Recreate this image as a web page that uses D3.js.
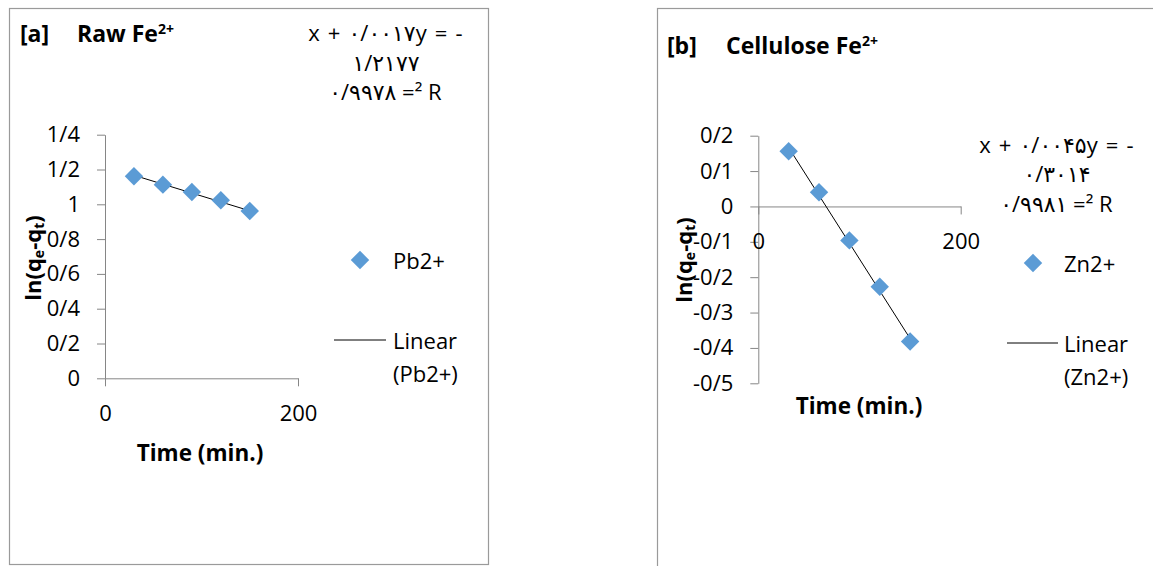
<!DOCTYPE html>
<html>
<head>
<meta charset="utf-8">
<script src="https://cdn.jsdelivr.net/npm/d3@7/dist/d3.min.js"></script>
<style>
  html, body { margin: 0; padding: 0; background: #fff; }
  svg { display: block; }
  text { font-family: "Open Sans", "DejaVu Sans", sans-serif; }
</style>
</head>
<body>
<svg id="chart" width="1153" height="566"></svg>
<script>
// Sampling times (min.)
const times = [30, 60, 90, 120, 150];

// Panel [a]: Raw Fe2+ (Pb2+ series)
const pbValues = [1.161, 1.113, 1.071, 1.023, 0.962];
const pbSlope = -0.0017;
const pbIntercept = 1.2177;
const pbYTicks = [0, 0.2, 0.4, 0.6, 0.8, 1, 1.2, 1.4];
const pbYTickLabels = ["0", "0/2", "0/4", "0/6", "0/8", "1", "1/2", "1/4"];
const pbEquation = ["x + ۰/۰۰۱۷y = -", "۱/۲۱۷۷", "۰/۹۹۷۸ =² R"];

// Panel [b]: Cellulose Fe2+ (Zn2+ series)
const znValues = [0.156, 0.040, -0.096, -0.227, -0.382];
const znSlope = -0.0045;
const znIntercept = 0.3014;
const znYTicks = [-0.5, -0.4, -0.3, -0.2, -0.1, 0, 0.1, 0.2];
const znYTickLabels = ["-0/5", "-0/4", "-0/3", "-0/2", "-0/1", "0", "0/1", "0/2"];
const znEquation = ["x + ۰/۰۰۴۵y = -", "۰/۳۰۱۴", "۰/۹۹۸۱ =² R"];

const xTicks = [0, 200];
const xTickLabels = ["0", "200"];

const svg = d3.select("#chart");
const AXIS = "#868686";
const MARK = "#5B9BD5";

function panel(cfg) {
  const g = svg.append("g");

  // chart frame
  g.append("rect")
    .attr("x", cfg.frame[0]).attr("y", cfg.frame[1])
    .attr("width", cfg.frame[2]).attr("height", cfg.frame[3])
    .attr("fill", "none").attr("stroke", "#9a9a9a").attr("stroke-width", 1.2);

  const x = d3.scaleLinear().domain([0, 200]).range(cfg.xRange);
  const y = d3.scaleLinear().domain(cfg.yDomain).range(cfg.yRange);

  // y axis
  const yAxis = d3.axisLeft(y)
    .tickValues(cfg.yTicks)
    .tickFormat((d, i) => cfg.yTickLabels[i])
    .tickSize(8).tickSizeOuter(0).tickPadding(17);
  const gy = g.append("g").attr("transform", `translate(${x(0)},0)`).call(yAxis);

  // x axis, crossing at y = 0
  const xAxis = d3.axisBottom(x)
    .tickValues(xTicks)
    .tickFormat((d, i) => xTickLabels[i])
    .tickSize(8).tickSizeOuter(0).tickPadding(19);
  const gx = g.append("g").attr("transform", `translate(0,${y(0)})`).call(xAxis);

  [gx, gy].forEach(a => {
    a.select(".domain").attr("stroke", AXIS);
    a.selectAll(".tick line").attr("stroke", AXIS);
    a.selectAll(".tick text")
      .attr("fill", "#000")
      .style("font-family", '"Open Sans", sans-serif')
      .style("font-size", "22px");
  });

  // axis titles
  g.append("text")
    .attr("x", cfg.xTitle[0]).attr("y", cfg.xTitle[1])
    .attr("text-anchor", "middle").attr("dominant-baseline", "central")
    .style("font-weight", "bold").style("font-size", "22.5px")
    .text("Time (min.)");

  const yt = g.append("text")
    .attr("transform", `translate(${cfg.yTitle[0]},${cfg.yTitle[1]}) rotate(-90)`)
    .attr("text-anchor", "middle").attr("dominant-baseline", "central")
    .style("font-weight", "bold").style("font-size", "22px");
  yt.append("tspan").text("ln(q");
  yt.append("tspan").attr("dy", 6).style("font-size", "14px").text("e");
  yt.append("tspan").attr("dy", -6).text("-q");
  yt.append("tspan").attr("dy", 6).style("font-size", "14px").text("t");
  yt.append("tspan").attr("dy", -6).text(")");

  // panel title
  const tt = g.append("text")
    .attr("x", cfg.title[0]).attr("y", cfg.title[1])
    .style("font-weight", "bold").style("font-size", "23px");
  tt.append("tspan").text(cfg.tag);
  tt.append("tspan").attr("x", cfg.title[2]).text(cfg.name + " Fe");
  tt.append("tspan").attr("dy", -8).style("font-size", "14px").text("2+");

  // linear trend line
  const x0 = d3.min(times), x1 = d3.max(times);
  g.append("line")
    .attr("x1", x(x0)).attr("y1", y(cfg.intercept + cfg.slope * x0))
    .attr("x2", x(x1)).attr("y2", y(cfg.intercept + cfg.slope * x1))
    .attr("stroke", "#000").attr("stroke-width", 1);

  // data markers (diamonds)
  const diamond = d3.symbol().type(d3.symbolSquare).size(170);
  g.selectAll("path.pt")
    .data(times.map((t, i) => [t, cfg.values[i]]))
    .join("path")
    .attr("class", "pt")
    .attr("d", diamond)
    .attr("transform", d => `translate(${x(d[0])},${y(d[1])}) rotate(45)`)
    .attr("fill", MARK);

  // regression equation
  const eq = g.append("text")
    .attr("text-anchor", "middle")
    .attr("direction", "ltr")
    .style("unicode-bidi", "bidi-override")
    .style("font-size", "22px")
    .style("letter-spacing", "1.2px");
  cfg.equation.forEach((line, i) => {
    eq.append("tspan")
      .attr("x", cfg.eq[0])
      .attr("y", cfg.eq[1] + i * 29.5)
      .attr("dominant-baseline", "central")
      .text(line);
  });

  // legend
  const lg = g.append("g");
  lg.append("path")
    .attr("d", diamond)
    .attr("transform", `translate(${cfg.legend[0]},${cfg.legend[1]}) rotate(45)`)
    .attr("fill", MARK);
  lg.append("text")
    .attr("x", cfg.legend[2]).attr("y", cfg.legend[1])
    .attr("dominant-baseline", "central").style("font-size", "22px")
    .text(cfg.series);
  lg.append("line")
    .attr("x1", cfg.legend[3]).attr("x2", cfg.legend[4])
    .attr("y1", cfg.legend[5]).attr("y2", cfg.legend[5])
    .attr("stroke", "#000").attr("stroke-width", 1);
  lg.append("text")
    .attr("x", cfg.legend[2]).attr("y", cfg.legend[5])
    .attr("dominant-baseline", "central").style("font-size", "22px")
    .text("Linear");
  lg.append("text")
    .attr("x", cfg.legend[2]).attr("y", cfg.legend[5] + 33)
    .attr("dominant-baseline", "central").style("font-size", "22px")
    .text(`(${cfg.series})`);
}

panel({
  frame: [9.5, 8.5, 479, 556],
  xRange: [105, 298],
  yDomain: [0, 1.4],
  yRange: [378.3, 134.7],
  yTicks: pbYTicks, yTickLabels: pbYTickLabels,
  values: pbValues, slope: pbSlope, intercept: pbIntercept,
  xTitle: [200, 452], yTitle: [32, 258],
  title: [20, 42, 77], tag: "[a]", name: "Raw",
  equation: pbEquation, eq: [386, 32],
  series: "Pb2+",
  legend: [360, 260, 393, 334, 386, 340]
});

panel({
  frame: [657.5, 8.5, 520, 570],
  xRange: [758.3, 960.7],
  yDomain: [-0.5, 0.2],
  yRange: [383.3, 135.7],
  yTicks: znYTicks, yTickLabels: znYTickLabels,
  values: znValues, slope: znSlope, intercept: znIntercept,
  xTitle: [859, 405], yTitle: [683, 260],
  title: [667, 54, 726], tag: "[b]", name: "Cellulose",
  equation: znEquation, eq: [1057, 143.5],
  series: "Zn2+",
  legend: [1033, 263, 1064, 1007, 1058, 343]
});
</script>
</body>
</html>
